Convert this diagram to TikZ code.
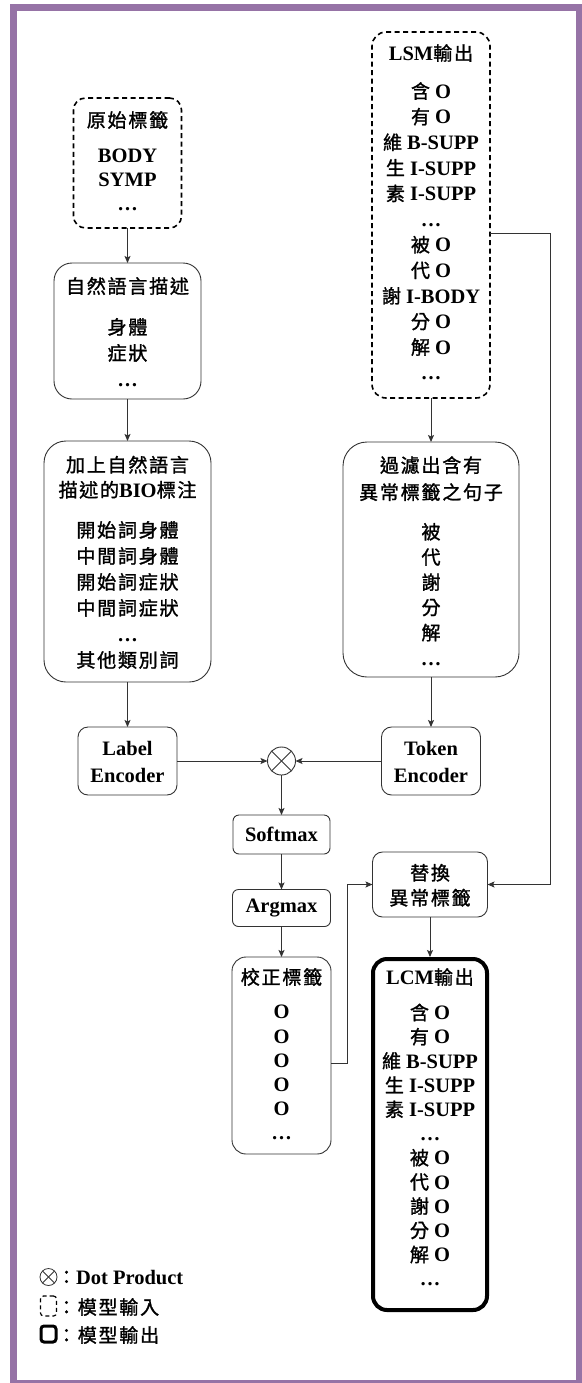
\documentclass[tikz,border=0pt]{standalone}
\usepackage{fontspec}
\setmainfont{Liberation Serif}
\newfontfamily\cjkfont{Noto Sans CJK TC}[Scale=0.93,LetterSpace=9,FakeBold=1.3]
\newcommand{\ct}[1]{{\mdseries\cjkfont #1}}
\usetikzlibrary{arrows.meta}
\definecolor{frm}{HTML}{9673A6}
\definecolor{ln}{HTML}{333333}
\tikzset{
  base/.style={inner sep=0pt, outer sep=0pt},
  rbox/.style={base, draw=ln, line width=0.9pt, fill=white},
  dbox/.style={base, draw=black, line width=1.6pt, dash pattern=on 5pt off 3.5pt},
  obox/.style={base, draw=black, line width=4pt},
  txt/.style={base, align=center, font=\bfseries\fontsize{20.5}{24}\selectfont},
  lines/.style={base, align=center, font=\bfseries\fontsize{20.5}{#1}\selectfont},
  arr/.style={draw=ln, line width=0.9pt, -{Stealth[length=7pt,width=6pt,inset=1.5pt]}},
  conn/.style={draw=ln, line width=0.9pt},
}
\begin{document}
\begin{tikzpicture}[x=1pt,y=-1pt]
\useasboundingbox (0,0) rectangle (581,1383);
\draw[frm, line width=7pt] (13.5,8) rectangle (579.5,1383.5);

% ---------- left column ----------
\node[dbox, minimum width=108pt, minimum height=130pt, rounded corners=12pt] (orig) at (127.5,163) {};
\node[txt] (origT) at (127.5,120) {\ct{原始標籤}};
\node[lines=24pt] (origC) at (127.5,182) {\strut BODY\\\strut SYMP\\\strut …};

\node[rbox, minimum width=147pt, minimum height=136pt, rounded corners=18pt] (nat) at (127.5,331) {};
\node[txt] (natT) at (127.5,286) {\ct{自然語言描述}};
\node[lines=26pt] (natC) at (127.5,355) {\strut\ct{身體}\\\strut\ct{症狀}\\\strut …};

\node[rbox, minimum width=167pt, minimum height=241pt, rounded corners=22pt] (bio) at (127.5,561.5) {};
\node[lines=25pt] (bioT) at (127.5,479.5) {\strut\ct{加上自然語言}\\\strut\ct{描述的}BIO\ct{標注}};
\node[lines=26pt] (bioC) at (127.5,597) {\strut\ct{開始詞身體}\\\strut\ct{中間詞身體}\\\strut\ct{開始詞症狀}\\\strut\ct{中間詞症狀}\\\strut …\\\strut\ct{其他類別詞}};

\node[rbox, minimum width=99pt, minimum height=68pt, rounded corners=10pt] (lab) at (127.5,761) {};
\node[lines=27pt] (labT) at (127.5,763.5) {\strut Label\\\strut Encoder};

% ---------- right column ----------
\node[dbox, minimum width=118pt, minimum height=366pt, rounded corners=14pt] (lsm) at (431,215) {};
\node[txt] (lsmT) at (431,53) {LSM\ct{輸出}};
\node[lines=25.6pt] (lsmC) at (431,234) {\strut\ct{含} O\\\strut\ct{有} O\\\strut\ct{維} B-SUPP\\\strut\ct{生} I-SUPP\\\strut\ct{素} I-SUPP\\\strut …\\\strut\ct{被} O\\\strut\ct{代} O\\\strut\ct{謝} I-BODY\\\strut\ct{分} O\\\strut\ct{解} O\\\strut …};

\node[rbox, minimum width=176pt, minimum height=235pt, rounded corners=24pt] (filt) at (431,559.5) {};
\node[lines=27pt] (filtT) at (431,480.5) {\strut\ct{過濾出含有}\\\strut\ct{異常標籤之句子}};
\node[lines=25.2pt] (filtC) at (431,597) {\strut\ct{被}\\\strut\ct{代}\\\strut\ct{謝}\\\strut\ct{分}\\\strut\ct{解}\\\strut …};

\node[rbox, minimum width=99pt, minimum height=68pt, rounded corners=10pt] (tok) at (431,761) {};
\node[lines=27pt] (tokT) at (431,763.5) {\strut Token\\\strut Encoder};

% ---------- middle ----------
\node[base, circle, draw=ln, line width=0.9pt, minimum size=28pt] (dot) at (281.5,761) {};
\draw[conn] (dot.north west) -- (dot.south east);
\draw[conn] (dot.north east) -- (dot.south west);

\node[rbox, minimum width=97pt, minimum height=39pt, rounded corners=6pt] (soft) at (281.5,834.5) {};
\node[txt] (softT) at (281.5,834.5) {Softmax};
\node[rbox, minimum width=98pt, minimum height=37pt, rounded corners=6pt] (argm) at (281.5,908) {};
\node[txt] (argmT) at (281.5,908) {Argmax};

\node[rbox, minimum width=99pt, minimum height=197pt, rounded corners=14pt] (cor) at (281.5,1055.5) {};
\node[txt] (corT) at (281.5,977) {\ct{校正標籤}};
\node[lines=24.2pt] (corC) at (281.5,1074.5) {\strut O\\\strut O\\\strut O\\\strut O\\\strut O\\\strut …};

\node[rbox, minimum width=115pt, minimum height=65pt, rounded corners=10pt] (rep) at (430,884.5) {};
\node[lines=25pt] (repT) at (430,887.5) {\strut\ct{替換}\\\strut\ct{異常標籤}};

\node[obox, minimum width=114pt, minimum height=351pt, rounded corners=14pt] (lcm) at (430,1134.5) {};
\node[txt] (lcmT) at (430,977) {LCM\ct{輸出}};
\node[lines=24.2pt] (lcmC) at (430,1148) {\strut\ct{含} O\\\strut\ct{有} O\\\strut\ct{維} B-SUPP\\\strut\ct{生} I-SUPP\\\strut\ct{素} I-SUPP\\\strut …\\\strut\ct{被} O\\\strut\ct{代} O\\\strut\ct{謝} O\\\strut\ct{分} O\\\strut\ct{解} O\\\strut …};

% ---------- connectors ----------
\draw[arr] (orig.south) -- (nat.north);
\draw[arr] (nat.south) -- (bio.north);
\draw[arr] (bio.south) -- (lab.north);
\draw[arr] (lsm.south) -- (filt.north);
\draw[arr] (filt.south) -- (tok.north);
\draw[arr] (lab.east) -- (dot.west);
\draw[arr] (tok.west) -- (dot.east);
\draw[arr] (dot.south) -- (soft.north);
\draw[arr] (soft.south) -- (argm.north);
\draw[arr] (argm.south) -- (cor.north);
\draw[arr] ([yshift=-18pt]lsm.east) -| ([xshift=63pt]rep.east) -- (rep.east);
\draw[arr] ([yshift=-7.5pt]cor.east) -- ++(16,0) |- (rep.west);
\draw[arr, shorten >=2pt] (rep.south) -- (lcm.north);

% ---------- legend ----------
\node[base, circle, draw=ln, line width=0.8pt, minimum size=17pt] (lgdot) at (48.5,1277) {};
\draw[conn, line width=0.8pt] (lgdot.north west) -- (lgdot.south east);
\draw[conn, line width=0.8pt] (lgdot.north east) -- (lgdot.south west);
\node[txt, anchor=west] (lgdotT) at (57,1277) {\ct{：}Dot Product};
\node[base, draw=black, line width=1.2pt, dash pattern=on 4pt off 3pt, minimum width=16pt, minimum height=20pt, rounded corners=3pt] (lgin) at (48.5,1306) {};
\node[txt, anchor=west] (lginT) at (57,1307) {\ct{：模型輸入}};
\node[base, draw=black, line width=3pt, minimum width=15pt, minimum height=16pt, rounded corners=3pt] (lgout) at (48.5,1334) {};
\node[txt, anchor=west] (lgoutT) at (57,1335) {\ct{：模型輸出}};
\end{tikzpicture}
\end{document}
